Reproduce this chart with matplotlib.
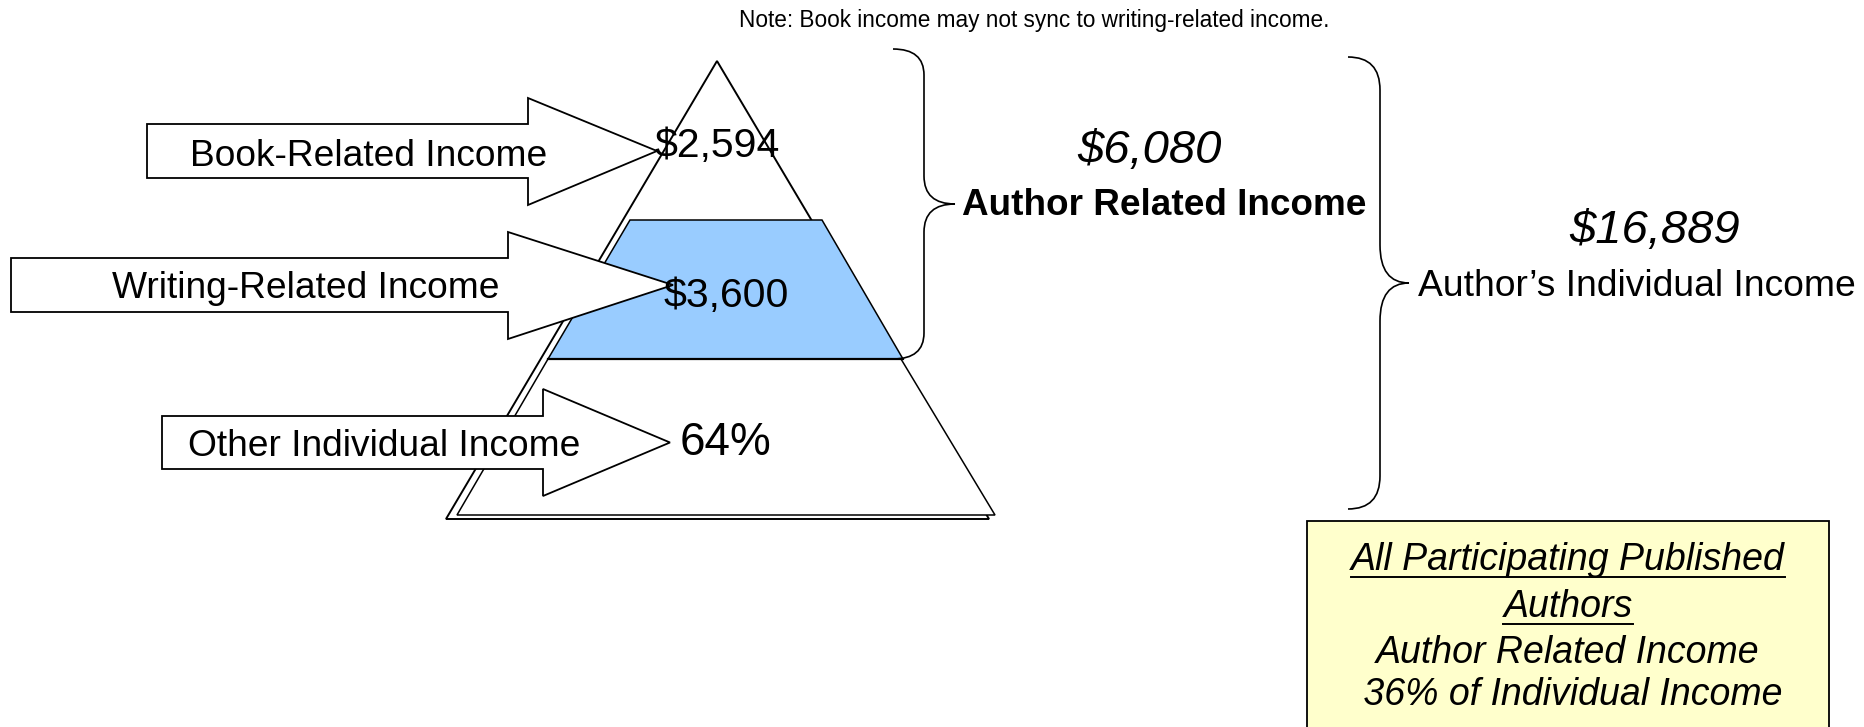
import matplotlib
matplotlib.use("Agg")
import matplotlib.pyplot as plt
from matplotlib.patches import Polygon, Rectangle, PathPatch
from matplotlib.path import Path

plt.rcParams["font.family"] = ["Liberation Sans", "DejaVu Sans"]

# data
band_labels = ["Book-Related Income", "Writing-Related Income", "Other Individual Income"]
band_amounts = [2594, 3600]          # dollars
other_share = 64                     # percent of individual income
author_related_total = 6080
individual_total = 16889
author_share = 36
note_text = "Note: Book income may not sync to writing-related income."
box_title = ["All Participating Published", "Authors"]
box_lines = ["Author Related Income", f" {author_share}% of Individual Income"]

value_texts = [f"\\${v:,}" for v in band_amounts] + [f"{other_share}%"]

# layout, in pixels of a 1864x727 canvas (y grows downward)
W, H = 1864, 727
fig = plt.figure(figsize=(W / 100, H / 100), dpi=100)
ax = fig.add_axes([0, 0, 1, 1])
ax.set_xlim(0, W)
ax.set_ylim(H, 0)
ax.axis("off")

LW = 1.1
# pyramid outline, then the two lower bands drawn slightly shifted on top
ax.add_patch(Polygon([(717, 61), (446, 519), (989, 519)], closed=True,
                     facecolor="white", edgecolor="black", lw=1.4, zorder=1))
ax.add_patch(Polygon([(630, 220), (822, 220), (903, 359), (548, 359)], closed=True,
                     facecolor="#99CCFF", edgecolor="black", lw=LW, zorder=2))
ax.add_patch(Polygon([(548, 359), (901, 359), (995, 515), (457, 515)], closed=True,
                     facecolor="white", edgecolor="black", lw=LW, zorder=2))
ax.plot([548, 903], [359, 359], color="black", lw=1.6, zorder=3)

# block arrows: body left, body top, body bottom, head base, head top, head bottom, tip x
arrows = [(147, 124, 178, 528, 98, 205, 657),
          (11, 258, 312, 508, 232, 339, 673),
          (162, 416, 469, 543, 389, 496, 670)]
label_pos = [(369, 166), (306, 298), (384, 456)]
value_pos = [(717, 157, 29.5), (726, 307, 29.5), (725, 455, 33)]

for (bx, bt, bb, hx, ht, hb, tx), lab, (lx, ly), val, (vx, vy, vfs) in zip(
        arrows, band_labels, label_pos, value_texts, value_pos):
    ty = (bt + bb) / 2
    pts = [(bx, bt), (hx, bt), (hx, ht), (tx, ty), (hx, hb), (hx, bb), (bx, bb)]
    ax.add_patch(Polygon(pts, closed=True, facecolor="white", edgecolor="black",
                         lw=1.3, zorder=5))
    ax.text(lx, ly, lab, fontsize=26.7, ha="center", va="baseline", zorder=6)
    ax.text(vx, vy, val, fontsize=vfs, ha="center", va="baseline", zorder=7)


def brace(x0, x1, x2, top, bot, r_end, r_mid):
    mid = (top + bot) / 2
    verts = [(x0, top), (x1, top), (x1, top + r_end),
             (x1, mid - r_mid), (x1, mid), (x2, mid),
             (x1, mid), (x1, mid + r_mid),
             (x1, bot - r_end), (x1, bot), (x0, bot)]
    codes = [Path.MOVETO, Path.CURVE3, Path.CURVE3,
             Path.LINETO, Path.CURVE3, Path.CURVE3,
             Path.CURVE3, Path.CURVE3,
             Path.LINETO, Path.CURVE3, Path.CURVE3]
    ax.add_patch(PathPatch(Path(verts, codes), facecolor="none",
                           edgecolor="black", lw=1.2, zorder=8))


brace(893, 924, 955, 49, 359, 26, 28)
brace(1348, 1380, 1409, 57, 509, 33, 38)

ax.text(1149, 163, f"\\${author_related_total:,}", fontsize=34, style="italic",
        ha="center", va="baseline")
ax.text(1164, 215, "Author Related Income", fontsize=26.6, fontweight="bold",
        ha="center", va="baseline")
ax.text(1655, 243, f"\\${individual_total:,}", fontsize=34, style="italic",
        ha="center", va="baseline")
ax.text(1637, 296, "Author\u2019s Individual Income", fontsize=26.8,
        ha="center", va="baseline")

ax.text(739, 27, note_text, fontsize=16.3, ha="left", va="baseline")

# summary box
ax.add_patch(Rectangle((1307, 521), 522, 230, facecolor="#FFFFCC",
                       edgecolor="black", lw=1.3, zorder=2))
title_objs = []
for txt, y in zip(box_title, [570, 617]):
    title_objs.append((ax.text(1568, y, txt, fontsize=27, style="italic",
                               ha="center", va="baseline", zorder=3), y))
for txt, y in zip(box_lines, [663, 705]):
    ax.text(1568, y, txt, fontsize=27, style="italic", ha="center",
            va="baseline", zorder=3)

fig.canvas.draw()
rend = fig.canvas.get_renderer()
inv = ax.transData.inverted()
for t, y in title_objs:
    bb = t.get_window_extent(rend)
    (xa, _), (xb, _) = inv.transform([(bb.x0, bb.y0), (bb.x1, bb.y1)])
    ax.plot([xa, xb], [y + 7, y + 7], color="black", lw=1.4, zorder=3)

fig.savefig("out.png", dpi=100, facecolor="white")
